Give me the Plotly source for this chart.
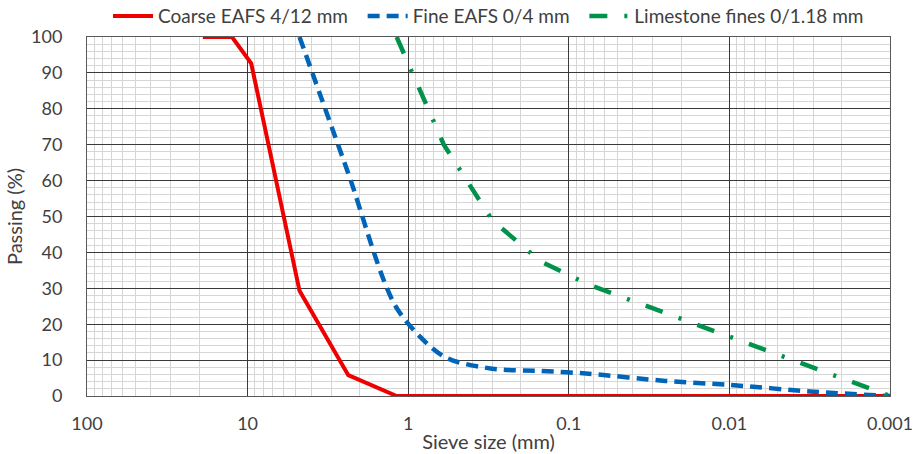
import plotly.graph_objects as go

# Sieve sizes (mm) and passing (%)
coarse_size = [19, 12.5, 9.5, 4.75, 2.36, 1.18, 0.6, 0.3, 0.15, 0.075, 0.001]
coarse_pass = [100, 100, 92.7, 29.3, 5.8, 0, 0, 0, 0, 0, 0]

fine_size = [4.75, 2.36, 1.18, 0.6, 0.3, 0.15, 0.075, 0.025, 0.01, 0.003, 0.001]
fine_pass = [100, 62, 24.5, 11, 7.6, 7.0, 6.2, 4.2, 3.1, 1.2, 0]

lime_size = [1.18, 0.6, 0.3, 0.15, 0.075, 0.01, 0.001]
lime_pass = [100, 70, 49, 37.5, 31, 16.5, 0]

x_tickvals = [100, 10, 1, 0.1, 0.01, 0.001]
x_ticktext = ["100", "10", "1", "0.1", "0.01", "0.001"]

FONT = "Lato"
TXT = "#404040"
PAD = "\u00a0\u00a0"

fig = go.Figure()
fig.add_trace(go.Scatter(x=coarse_size, y=coarse_pass, mode="lines",
                         name="Coarse EAFS 4/12 mm" + PAD,
                         line=dict(color="#ee0000", width=4)))
fig.add_trace(go.Scatter(x=fine_size, y=fine_pass, mode="lines",
                         name="Fine EAFS 0/4 mm" + PAD,
                         line=dict(color="#0065b8", width=4.5, dash="12px,7px",
                                   shape="spline", smoothing=0.8)))
fig.add_trace(go.Scatter(x=lime_size, y=lime_pass, mode="lines",
                         name="Limestone fines 0/1.18 mm",
                         line=dict(color="#00924a", width=4.5, dash="18px,17px,3px,17px")))

fig.update_layout(
    width=916, height=454,
    margin=dict(l=87, r=26, t=37, b=58, autoexpand=False),
    paper_bgcolor="white", plot_bgcolor="white",
    font=dict(family=FONT, size=18, color=TXT),
    legend=dict(orientation="h", x=0.5, xanchor="center", y=1.058, yanchor="middle",
                font=dict(size=19, color=TXT), bgcolor="rgba(0,0,0,0)",
                itemwidth=40, tracegroupgap=0),
    showlegend=True,
)

fig.update_xaxes(
    type="log", range=[2, -3],
    tickmode="array", tickvals=x_tickvals, ticktext=x_ticktext,
    showgrid=True, gridcolor="#3a3a3a", gridwidth=1,
    minor=dict(dtick="D1", showgrid=True, gridcolor="#d6d6d6", gridwidth=1),
    showline=True, mirror=True, linecolor="#595959", linewidth=1,
    ticks="", ticklabelstandoff=11, automargin=False,
    title=dict(text="Sieve size (mm)", font=dict(size=20, color=TXT), standoff=2),
    zeroline=False,
)
fig.update_yaxes(
    range=[0, 100], dtick=10,
    showgrid=True, gridcolor="#3a3a3a", gridwidth=1,
    minor=dict(dtick=2, showgrid=True, gridcolor="#d6d6d6", gridwidth=1),
    showline=True, mirror=True, linecolor="#595959", linewidth=1,
    ticks="", ticklabelstandoff=20, automargin=False,
    title=dict(text="Passing (%)", font=dict(size=20, color=TXT), standoff=3),
    zeroline=False,
)

fig.write_html("out.html")
